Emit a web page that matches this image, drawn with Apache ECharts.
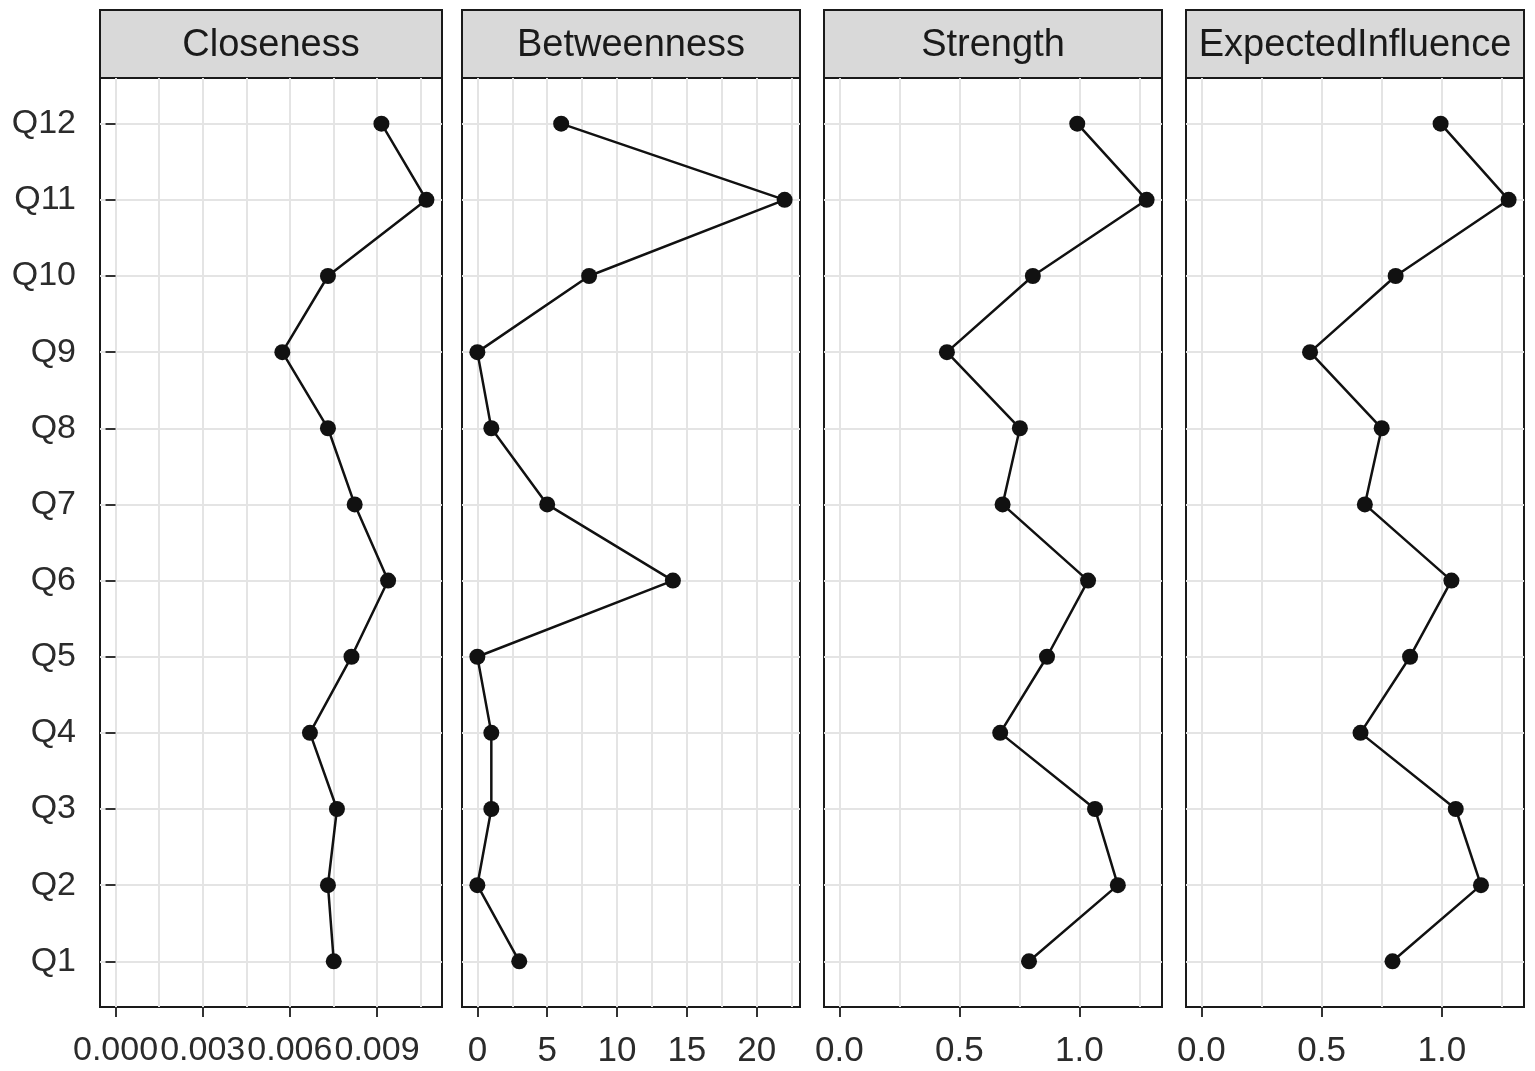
<!DOCTYPE html>
<html>
<head>
<meta charset="utf-8">
<script src="https://cdn.jsdelivr.net/npm/echarts@6/dist/echarts.min.js"></script>
<style>
  html, body { margin: 0; padding: 0; background: #fff; }
  #main { width: 1535px; height: 1071px; }
</style>
</head>
<body>
<div id="main"></div>
<script>
// items, bottom to top
var items = ['Q1', 'Q2', 'Q3', 'Q4', 'Q5', 'Q6', 'Q7', 'Q8', 'Q9', 'Q10', 'Q11', 'Q12'];
var measures = ['Closeness', 'Betweenness', 'Strength', 'ExpectedInfluence'];

var closeness = [0.00751, 0.00731, 0.00762, 0.00669, 0.00812, 0.00938, 0.00823, 0.00731, 0.00574, 0.00731, 0.0107, 0.00915];
var betweenness = [3, 0, 1, 1, 0, 14, 5, 1, 0, 8, 22, 6];
var strength = [0.790, 1.160, 1.065, 0.670, 0.865, 1.036, 0.680, 0.752, 0.448, 0.806, 1.280, 0.991];
var expectedInfluence = [0.795, 1.163, 1.058, 0.662, 0.868, 1.040, 0.680, 0.750, 0.452, 0.808, 1.278, 0.995];

// tick labels and grid lines of the x axes
var closenessTicks = [0, 0.003, 0.006, 0.009];
var betweennessTicks = [0, 5, 10, 15, 20];
var strengthTicks = [0, 0.5, 1.0];
var closenessGrid = [0, 0.0015, 0.003, 0.0045, 0.006, 0.0075, 0.009, 0.0105];
var betweennessGrid = [0, 2.5, 5, 7.5, 10, 12.5, 15, 17.5, 20, 22.5];
var strengthGrid = [0, 0.25, 0.5, 0.75, 1.0, 1.25];

var itemPos = [1, 2, 3, 4, 5, 6, 7, 8, 9, 10, 11, 12];

window.onload = function () {
    var chart = echarts.init(document.getElementById('main'));
    var font = '"Liberation Sans", Arial, sans-serif';
    var gridColor = '#e4e4e4';

    var panels = [
        { name: measures[0], data: closeness, ticks: closenessTicks, grid: closenessGrid, size: 34, fmt: function (v) { return v.toFixed(3); } },
        { name: measures[1], data: betweenness, ticks: betweennessTicks, grid: betweennessGrid, size: 35, fmt: function (v) { return String(Math.round(v)); } },
        { name: measures[2], data: strength, ticks: strengthTicks, grid: strengthGrid, size: 35, fmt: function (v) { return v.toFixed(1); } },
        { name: measures[3], data: expectedInfluence, ticks: strengthTicks, grid: strengthGrid, size: 35, fmt: function (v) { return v.toFixed(1); } }
    ];
    var lefts = [100, 462, 824, 1186];
    var widths = [342, 338, 338, 338];
    var top = 78, height = 929;

    var grids = [], xAxes = [], yAxes = [], series = [], graphics = [];

    panels.forEach(function (p, i) {
        var mx = Math.max.apply(null, p.data);
        var xmin = -0.05 * mx, xmax = 1.05 * mx;

        grids.push({
            left: lefts[i], top: top, width: widths[i], height: height,
            show: true, borderColor: '#1a1a1a', borderWidth: 2, backgroundColor: '#fff'
        });

        // visible axis: ticks + labels
        xAxes.push({
            type: 'value', gridIndex: i, position: 'bottom', min: xmin, max: xmax,
            axisLine: { show: false },
            axisTick: { show: true, length: 10, customValues: p.ticks, lineStyle: { color: '#333', width: 2 } },
            axisLabel: {
                show: true, customValues: p.ticks, formatter: p.fmt, hideOverlap: false,
                fontSize: p.size, color: '#2b2b2b', fontFamily: font, margin: 27
            },
            splitLine: { show: false }
        });
        // helper axis: grid lines only
        xAxes.push({
            type: 'value', gridIndex: i, position: 'bottom', min: xmin, max: xmax,
            axisLine: { show: false },
            axisTick: { show: false, customValues: p.grid },
            axisLabel: { show: false },
            splitLine: { show: true, lineStyle: { color: gridColor, width: 2 } }
        });

        if (i === 0) {
            yAxes.push({
                type: 'value', gridIndex: i, min: 0.4, max: 12.6,
                axisLine: { show: false },
                axisTick: { show: true, length: 10, customValues: itemPos, lineStyle: { color: '#333', width: 2 } },
                axisLabel: {
                    show: true, customValues: itemPos, fontSize: 34, color: '#2b2b2b', fontFamily: font, margin: 24,
                    formatter: function (v) { return items[Math.round(v) - 1]; }
                },
                splitLine: { show: true, lineStyle: { color: gridColor, width: 2 } }
            });
        } else {
            yAxes.push({
                type: 'value', gridIndex: i, min: 0.4, max: 12.6,
                axisLine: { show: false },
                axisTick: { show: false },
                axisLabel: { show: false },
                splitLine: { show: false }
            });
        }

        series.push({
            type: 'line', xAxisIndex: i * 2, yAxisIndex: i,
            data: p.data.map(function (v, k) { return [v, itemPos[k]]; }),
            symbol: 'circle', symbolSize: 16,
            itemStyle: { color: '#111' },
            lineStyle: { color: '#111', width: 2.5 },
            z: 3,
            animation: false
        });

        if (i > 0) {
            // horizontal grid lines for the item rows
            series.push({
                type: 'line', xAxisIndex: i * 2, yAxisIndex: i, data: [], z: 1,
                markLine: {
                    silent: true, symbol: 'none', animation: false, z: 1,
                    label: { show: false },
                    lineStyle: { color: gridColor, width: 2, type: 'solid' },
                    data: itemPos.map(function (v) { return { yAxis: v }; })
                }
            });
        }

        // facet strip
        graphics.push({
            type: 'rect', shape: { x: lefts[i], y: 10, width: widths[i], height: top - 10 },
            style: { fill: '#d9d9d9', stroke: '#1a1a1a', lineWidth: 2 }
        });
        graphics.push({
            type: 'text', x: lefts[i] + widths[i] / 2, y: 46,
            style: {
                text: p.name, font: '38px ' + font, fill: '#1a1a1a',
                align: 'center', verticalAlign: 'middle', textAlign: 'center', textVerticalAlign: 'middle'
            }
        });
    });

    chart.setOption({
        backgroundColor: '#fff',
        animation: false,
        grid: grids,
        xAxis: xAxes,
        yAxis: yAxes,
        series: series,
        graphic: graphics
    });
};
</script>
</body>
</html>
